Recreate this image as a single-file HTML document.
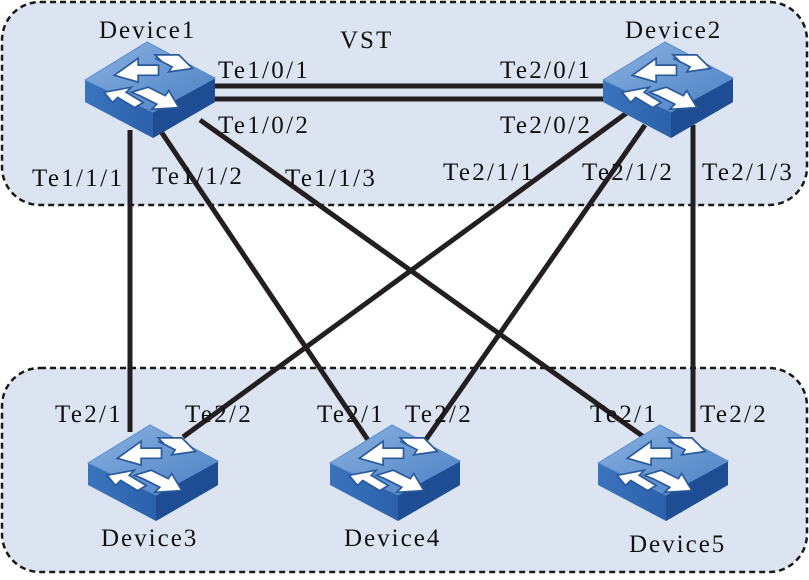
<!DOCTYPE html>
<html><head><meta charset="utf-8"><style>
html,body{margin:0;padding:0;background:#fff;}
text{font-family:"Liberation Serif",serif;font-size:25px;fill:#111;letter-spacing:2.3px;}
text.d{font-size:25px;letter-spacing:2px;}
</style></head><body>
<svg width="809" height="575" viewBox="0 0 809 575" xmlns="http://www.w3.org/2000/svg">
<defs>
<linearGradient id="tg" x1="0" y1="0" x2="1" y2="1"><stop offset="0" stop-color="#8ab2e0"/><stop offset="1" stop-color="#4a80c4"/></linearGradient>
<linearGradient id="lg" x1="0" y1="0" x2="1" y2="0"><stop offset="0" stop-color="#3a74bd"/><stop offset="1" stop-color="#1e4f9a"/></linearGradient>
<g id="sw">
<path d="M0,40 L0,62 L68,98 L130,62 L130,38 Z" fill="url(#lg)"/>
<path d="M68,72 L68,98 L130,62 L130,38 Z" fill="#1f4d93"/>
<path d="M0,40 L62,2 L130,38 L68,72 Z" fill="url(#tg)" stroke="#5d8fcd" stroke-width="1"/>
<g fill="#fff" stroke="#2a5a9c" stroke-width="1" transform="translate(65,37) scale(1.7) translate(-65,-37)">
<path d="M50,42 l14,-10 l0,4 l12,0 l0,6 l-12,0 l0,4 z" transform="translate(-6,-6)"/>
<path d="M38,46 l16,-3 l-3,3 l10,6 l-5,3 l-10,-6 l-3,3 z"/>
<path d="M76,30 l-4,-4 l14,0 l8,8 l-14,2 l2,-3 l-10,-5 z" transform="translate(-4,-2)"/>
<path d="M62,52 l10,-3 l10,5 l2,-3 l6,10 l-16,1 l3,-3 l-10,-5 z" transform="translate(-8,-6)"/>
</g>
</g>
</defs>
<rect x="2" y="2" width="805" height="203" rx="38" fill="#dce4f2" stroke="#1a1a1a" stroke-width="2.5" stroke-dasharray="6,4"/>
<rect x="2" y="368" width="805" height="204" rx="38" fill="#dce4f2" stroke="#1a1a1a" stroke-width="2.5" stroke-dasharray="6,4"/>
<g stroke="#231f20" stroke-width="5" fill="none">
<line x1="210" y1="86" x2="612" y2="86"/>
<line x1="210" y1="99" x2="612" y2="99"/>
<line x1="130" y1="130" x2="130" y2="432"/>
<line x1="160" y1="130" x2="378" y2="455"/>
<line x1="200" y1="120" x2="648" y2="440"/>
<line x1="628" y1="112" x2="183" y2="437"/>
<line x1="645" y1="125" x2="420" y2="448"/>
<line x1="693" y1="125" x2="693" y2="432"/>
</g>
<use href="#sw" x="85" y="40"/>
<use href="#sw" x="603" y="40"/>
<use href="#sw" x="88" y="423"/>
<use href="#sw" x="330" y="423"/>
<use href="#sw" x="598" y="423"/>
<text class="d" x="99" y="38">Device1</text>
<text class="d" x="340" y="48">VST</text>
<text class="d" x="625" y="38">Device2</text>
<text x="218" y="78">Te1/0/1</text>
<text x="500" y="78">Te2/0/1</text>
<text x="218" y="133">Te1/0/2</text>
<text x="500" y="133">Te2/0/2</text>
<text x="32" y="186">Te1/1/1</text>
<text x="152" y="184">Te1/1/2</text>
<text x="285" y="186">Te1/1/3</text>
<text x="443" y="180">Te2/1/1</text>
<text x="582" y="180">Te2/1/2</text>
<text x="702" y="180">Te2/1/3</text>
<text x="55" y="422">Te2/1</text>
<text x="185" y="422">Te2/2</text>
<text x="317" y="422">Te2/1</text>
<text x="405" y="422">Te2/2</text>
<text x="590" y="422">Te2/1</text>
<text x="700" y="422">Te2/2</text>
<text class="d" x="101" y="546">Device3</text>
<text class="d" x="344" y="546">Device4</text>
<text class="d" x="629" y="552">Device5</text>
</svg>
</body></html>
